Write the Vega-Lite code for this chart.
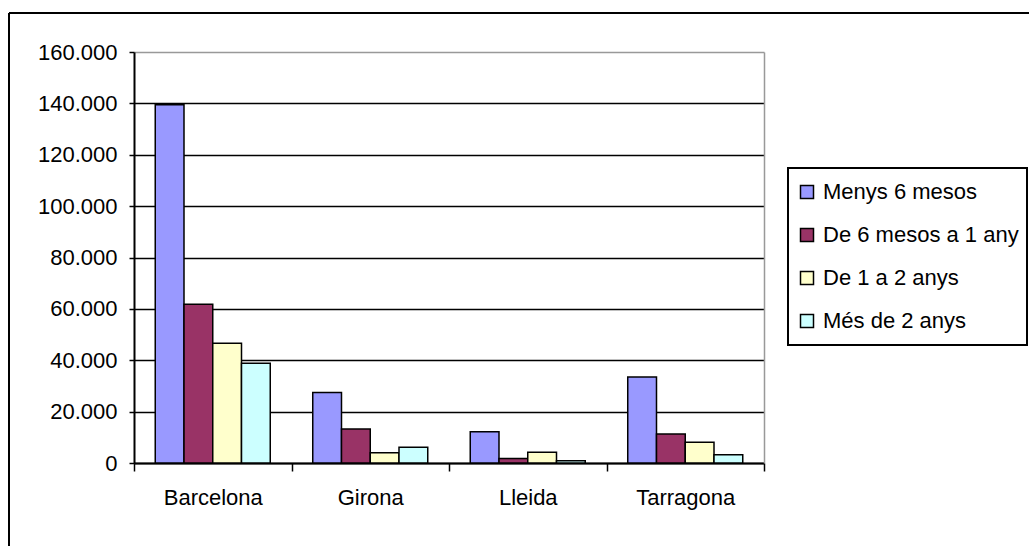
{
  "$schema": "https://vega.github.io/schema/vega-lite/v6.json",
  "width": 1020,
  "height": 533,
  "autosize": {"type": "none"},
  "padding": {"left": 9, "top": 13, "right": 0, "bottom": 0},
  "background": "white",
  "config": {
    "view": {"stroke": "black", "strokeWidth": 2, "fill": "white", "strokeDash": [1020, 1553, 533, 0]},
    "font": "Liberation Sans",
    "axis": {"labelFont": "Liberation Sans", "labelFontSize": 22, "labelColor": "black", "domainColor": "black", "tickColor": "black"},
    "legend": {"strokeWidth": 2}
  },
  "data": {
    "values": [
      {"province": "Barcelona", "series": "Menys 6 mesos", "value": 139500},
      {"province": "Barcelona", "series": "De 6 mesos a 1 any", "value": 61800},
      {"province": "Barcelona", "series": "De 1 a 2 anys", "value": 46600},
      {"province": "Barcelona", "series": "Més de 2 anys", "value": 38800},
      {"province": "Girona", "series": "Menys 6 mesos", "value": 27400},
      {"province": "Girona", "series": "De 6 mesos a 1 any", "value": 13200},
      {"province": "Girona", "series": "De 1 a 2 anys", "value": 4000},
      {"province": "Girona", "series": "Més de 2 anys", "value": 6100},
      {"province": "Lleida", "series": "Menys 6 mesos", "value": 12200},
      {"province": "Lleida", "series": "De 6 mesos a 1 any", "value": 1800},
      {"province": "Lleida", "series": "De 1 a 2 anys", "value": 4200},
      {"province": "Lleida", "series": "Més de 2 anys", "value": 900},
      {"province": "Tarragona", "series": "Menys 6 mesos", "value": 33500},
      {"province": "Tarragona", "series": "De 6 mesos a 1 any", "value": 11300},
      {"province": "Tarragona", "series": "De 1 a 2 anys", "value": 8100},
      {"province": "Tarragona", "series": "Més de 2 anys", "value": 3200}
    ]
  },
  "encoding": {
    "x": {
      "field": "province",
      "type": "nominal",
      "sort": ["Barcelona", "Girona", "Lleida", "Tarragona"],
      "scale": {"range": [125, 755], "paddingInner": 0, "paddingOuter": 0},
      "axis": {
        "title": null,
        "orient": "bottom",
        "offset": -83,
        "labelAngle": 0,
        "tickBand": "extent",
        "tickSize": 8,
        "tickWidth": 1.5,
        "domainWidth": 2,
        "labelPadding": 16,
        "grid": false
      }
    },
    "xOffset": {
      "field": "series",
      "type": "nominal",
      "sort": ["Menys 6 mesos", "De 6 mesos a 1 any", "De 1 a 2 anys", "Més de 2 anys"],
      "scale": {"paddingInner": 0, "paddingOuter": 0.739}
    }
  },
  "layer": [
    {
      "mark": {"type": "bar", "stroke": "black", "strokeWidth": 1.5},
      "encoding": {
        "y": {
          "field": "value",
          "type": "quantitative",
          "scale": {"domain": [0, 160000], "range": [450, 39], "nice": false, "zero": true},
          "axis": {
            "title": null,
            "orient": "left",
            "offset": -125,
            "values": [0, 20000, 40000, 60000, 80000, 100000, 120000, 140000, 160000],
            "labelExpr": "replace(format(datum.value, ','), ',', '.')",
            "tickSize": 5,
            "tickWidth": 1.5,
            "domainWidth": 2,
            "labelPadding": 12,
            "grid": true,
            "gridWidth": 1.5,
            "gridColor": {"condition": {"test": "datum.value === 160000", "value": "#999999"}, "value": "black"}
          }
        },
        "color": {
          "field": "series",
          "type": "nominal",
          "sort": ["Menys 6 mesos", "De 6 mesos a 1 any", "De 1 a 2 anys", "Més de 2 anys"],
          "scale": {
            "domain": ["Menys 6 mesos", "De 6 mesos a 1 any", "De 1 a 2 anys", "Més de 2 anys"],
            "range": ["#9999FF", "#993366", "#FFFFCC", "#CCFFFF"]
          },
          "legend": {
            "title": null,
            "orient": "none",
            "legendX": 779,
            "legendY": 155,
            "strokeColor": "black",
            "fillColor": "white",
            "padding": 8,
            "clipHeight": 32,
            "symbolType": "square",
            "symbolSize": 169,
            "symbolStrokeColor": "black",
            "symbolStrokeWidth": 1.5,
            "labelFont": "Liberation Sans",
            "labelFontSize": 22,
            "labelColor": "black",
            "labelOffset": 5,
            "rowPadding": 11,
            "labelLimit": 400
          }
        }
      }
    },
    {
      "mark": {"type": "bar", "opacity": 0},
      "encoding": {
        "y": {
          "field": "value",
          "type": "quantitative",
          "axis": {
            "title": null,
            "orient": "right",
            "offset": -265,
            "labels": false,
            "ticks": false,
            "grid": false,
            "domainColor": "#999999",
            "domainWidth": 1.5
          }
        }
      }
    }
  ],
  "resolve": {"axis": {"y": "independent"}}
}
